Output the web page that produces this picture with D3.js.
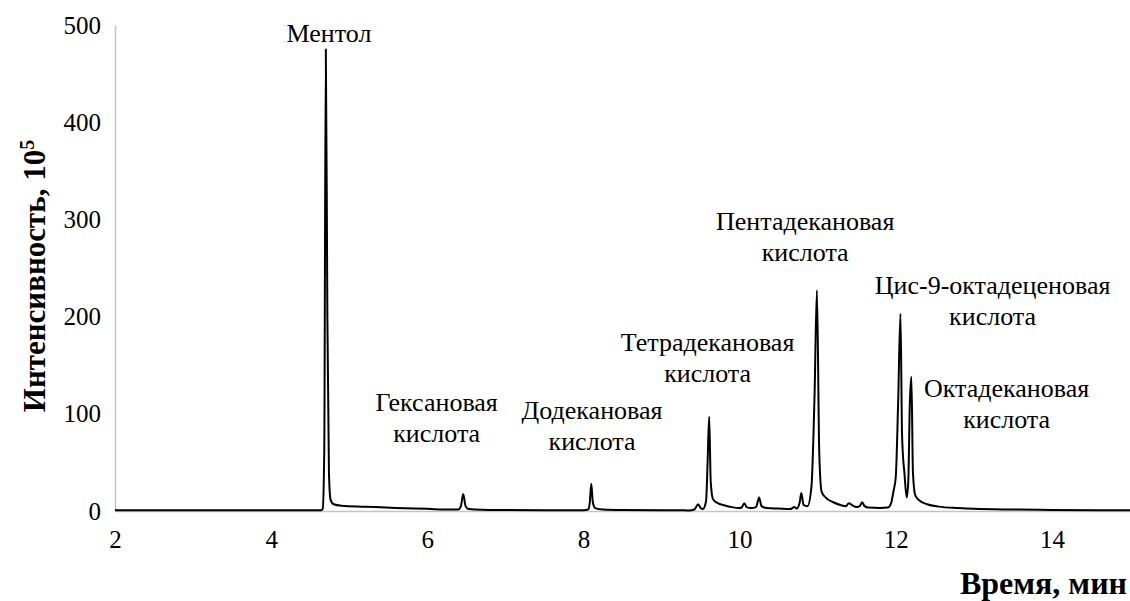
<!DOCTYPE html>
<html>
<head>
<meta charset="utf-8">
<script src="https://cdn.jsdelivr.net/npm/d3@7"></script>
<style>
  html, body { margin: 0; padding: 0; background: #fff; }
  svg { display: block; }
</style>
</head>
<body>
<svg id="chart" width="1130" height="601"></svg>
<script>
// Chromatogram: retention time (min) vs. intensity (×10^5)
const times = [
  2.00, 3.00, 4.00, 4.64, 4.66, 4.68, 4.70, 4.72, 4.74, 4.76, 4.80, 4.90, 5.20, 5.60, 6.00, 6.30,
  6.40, 6.43, 6.46, 6.49, 6.53, 6.70, 7.00, 7.50, 8.00, 8.06, 8.08, 8.10, 8.12, 8.15, 8.25, 8.50,
  9.00, 9.30, 9.35, 9.42, 9.47, 9.50, 9.53, 9.57, 9.59, 9.61, 9.63, 9.66, 9.72, 9.80, 9.90, 10.00,
  10.03, 10.06, 10.09, 10.15, 10.21, 10.25, 10.28, 10.35, 10.50, 10.65, 10.70, 10.73, 10.77, 10.79,
  10.82, 10.87, 10.92, 10.96, 10.99, 11.02, 11.05, 11.10, 11.20, 11.30, 11.36, 11.40, 11.44, 11.50,
  11.54, 11.57, 11.60, 11.65, 11.80, 11.90, 11.94, 11.97, 12.00, 12.03, 12.06, 12.08, 12.09, 12.11,
  12.14, 12.16, 12.18, 12.20, 12.22, 12.25, 12.30, 12.40, 12.55, 12.80, 13.00, 13.50, 14.00, 15.00
];
const intensity = [
  0.8, 0.8, 0.8, 0.8, 2, 60, 475, 200, 40, 12, 7, 5.5, 4.5, 3.2, 2.2, 1.5,
  1.6, 5, 17.5, 5, 2, 1.2, 1, 0.9, 0.9, 1.5, 8, 28, 9, 3, 1.5, 1,
  0.8, 0.8, 0.4, 1.5, 7, 3, 2, 10, 50, 97, 30, 12, 8, 6, 4, 3,
  4, 8, 4, 3, 4, 14, 5, 3, 2.5, 2, 4, 2.5, 9, 18.5,
  6, 5, 25, 120, 227, 60, 20, 14, 9, 6, 5, 8, 6, 4,
  5, 9, 5, 3.5, 3, 3.5, 8, 20, 35, 110, 203, 80, 60, 40,
  14, 30, 110, 138, 40, 16, 11, 7, 4.5, 3, 2.2, 1.5, 1.1, 0.8
];

const xTicks = [2, 4, 6, 8, 10, 12, 14];
const yTicks = [0, 100, 200, 300, 400, 500];

// Compound labels: text lines and anchor of the first line (time, intensity)
const peakNames = [
  ["Ментол"],
  ["Гексановая", "кислота"],
  ["Додекановая", "кислота"],
  ["Тетрадекановая", "кислота"],
  ["Пентадекановая", "кислота"],
  ["Цис-9-октадеценовая", "кислота"],
  ["Октадекановая", "кислота"]
];
const labelTimes = [4.74, 6.12, 8.11, 9.59, 10.84, 13.24, 13.42];
const labelValues = [483, 103, 95, 165, 289, 223, 117];

const FONT = "'Liberation Serif', serif";

const svg = d3.select("#chart");
const x = d3.scaleLinear().domain([2, 15]).range([115, 1130]);
const y = d3.scaleLinear().domain([0, 500]).range([511, 25]);

// Axes: light grey lines without tick marks
const xAxis = svg.append("g")
  .attr("transform", `translate(0,${y(0)})`)
  .call(d3.axisBottom(x).tickValues(xTicks).tickSize(0).tickPadding(19).tickFormat(d3.format("d")));
const yAxis = svg.append("g")
  .attr("transform", `translate(${x(2)},0)`)
  .call(d3.axisLeft(y).tickValues(yTicks).tickSize(0).tickPadding(14).tickFormat(d3.format("d")));
[xAxis, yAxis].forEach(g => {
  g.select(".domain").attr("stroke", "#c4c4c4").attr("stroke-width", 1.5);
  g.selectAll("text").style("font-family", FONT).style("font-size", "25px").attr("fill", "#000");
});

// Trace
const points = times.map((t, i) => [t, intensity[i]]);
svg.append("path")
  .datum(points)
  .attr("fill", "none")
  .attr("stroke", "#000")
  .attr("stroke-width", 2)
  .attr("stroke-linejoin", "round")
  .attr("d", d3.line().x(d => x(d[0])).y(d => y(d[1])).curve(d3.curveMonotoneX));

// Peak labels
peakNames.forEach((lines, i) => {
  const t = svg.append("text")
    .attr("x", x(labelTimes[i]))
    .attr("y", y(labelValues[i]))
    .attr("text-anchor", "middle")
    .style("font-family", FONT)
    .style("font-size", "26px")
    .attr("fill", "#000");
  lines.forEach((line, j) => {
    t.append("tspan")
      .attr("x", x(labelTimes[i]))
      .attr("dy", j === 0 ? 0 : 31)
      .text(line);
  });
});

// Axis titles
const yTitle = svg.append("text")
  .attr("transform", "translate(45,276) rotate(-90)")
  .attr("text-anchor", "middle")
  .style("font-family", FONT)
  .style("font-size", "31px")
  .style("font-weight", "bold")
  .attr("fill", "#000");
yTitle.append("tspan").text("Интенсивность, 10");
yTitle.append("tspan").attr("baseline-shift", "super").style("font-size", "20px").text("5");

svg.append("text")
  .attr("x", 1127)
  .attr("y", 594)
  .attr("text-anchor", "end")
  .style("font-family", FONT)
  .style("font-size", "32px")
  .style("font-weight", "bold")
  .attr("fill", "#000")
  .text("Время, мин");
</script>
</body>
</html>
